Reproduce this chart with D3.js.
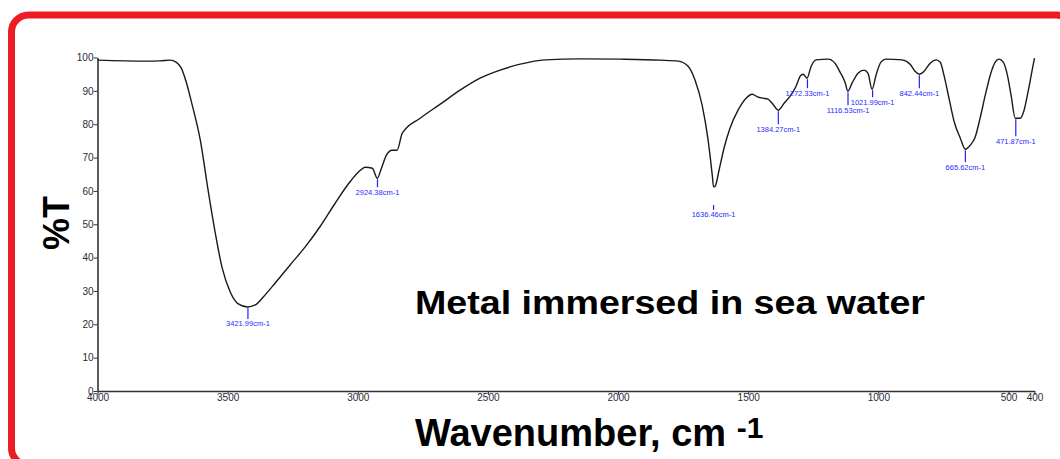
<!DOCTYPE html>
<html><head><meta charset="utf-8">
<script src="https://cdn.jsdelivr.net/npm/d3@7"></script>
<style>html,body{margin:0;padding:0;background:#fff;}svg{display:block;}</style>
</head><body>
<script>
// Spectrum data: wavenumber (cm-1) and transmittance (%T)
const wavenumber = [4000,3817,3759,3721,3698,3678,3659,3636,3605,3575,3548,3521,3490,3459,3424,3394,3363,3317,3260,3202,3144,3087,3037,2998,2971,2944,2925,2909,2890,2868,2849,2829,2760,2683,2607,2530,2453,2376,2280,2146,1992,1838,1769,1731,1704,1677,1654,1638,1633,1627,1612,1593,1570,1539,1508,1485,1462,1443,1424,1405,1385,1362,1339,1316,1300,1289,1274,1258,1239,1193,1167,1147,1128,1117,1101,1078,1055,1040,1024,1009,990,971,909,878,859,843,824,801,778,762,747,727,708,685,666,647,628,609,590,570,551,536,520,505,490,474,455,440,425,409,400];
const transmittance = [99.2,98.9,99.0,99.2,98.6,96.8,92.6,85.7,75.2,60.2,47.6,36.9,29.7,26.1,25.2,25.8,28.2,32.4,37.8,43.2,49.4,56.3,62.0,65.6,67.1,66.8,63.8,66.8,70.7,72.2,72.2,77.3,81.8,86.0,90.2,93.8,96.2,98.0,99.3,99.6,99.5,99.2,98.9,97.4,93.2,85.7,75.2,64.7,61.2,61.4,66.2,72.8,78.8,84.2,87.8,89.0,88.1,87.8,87.5,86.0,84.2,86.3,88.4,91.4,94.4,95.0,93.8,97.4,99.3,99.5,98.3,95.6,92.6,89.9,92.3,95.3,96.2,95.3,90.5,94.7,98.6,99.5,99.3,98.0,95.9,95.0,95.9,98.3,99.3,98.6,94.4,87.2,80.6,75.8,72.5,73.7,76.1,81.8,88.4,94.7,98.6,99.5,98.6,95.0,88.7,81.8,81.8,84.2,89.6,96.2,99.8];

// Peak annotations
const peakWn = [3421.99, 2924.38, 1633.0, 1384.27, 1272.33, 1116.53, 1021.99, 842.44, 665.62, 471.87];
const peakT  = [25.2, 63.8, 61.2, 84.2, 93.8, 89.9, 90.5, 95.0, 72.5, 81.8];
const peakLabels = ["3421.99cm-1","2924.38cm-1","1636.46cm-1","1384.27cm-1","1272.33cm-1","1116.53cm-1","1021.99cm-1","842.44cm-1","665.62cm-1","471.87cm-1"];

// Axis ticks
const xTicks = [4000,3500,3000,2500,2000,1500,1000,500,400];
const yTicks = [0,10,20,30,40,50,60,70,80,90,100];

const W = 1060, H = 459;
const svg = d3.select("body").append("svg").attr("width", W).attr("height", H);

// red rounded frame
svg.append("rect").attr("x", 11.5).attr("y", 15).attr("width", 1062).attr("height", 450)
  .attr("rx", 17).attr("fill", "none").attr("stroke", "#ed1c24").attr("stroke-width", 7);

const x = d3.scaleLinear().domain([4000, 400]).range([97.5, 1034.5]);
const y = d3.scaleLinear().domain([0, 100]).range([391, 57.5]);

const font = "'Liberation Sans', Arial, sans-serif";

// axes
const xAxis = svg.append("g").attr("transform", "translate(0,391)")
  .call(d3.axisBottom(x).tickValues(xTicks).tickSize(4).tickSizeOuter(0).tickFormat(d3.format("d")));
const yAxis = svg.append("g").attr("transform", "translate(97.5,0)")
  .call(d3.axisLeft(y).tickValues(yTicks).tickSize(4).tickSizeOuter(0).tickFormat(d3.format("d")));
[xAxis, yAxis].forEach(g => {
  g.select(".domain").attr("stroke", "#333").attr("stroke-width", 1.6);
  g.selectAll(".tick line").attr("stroke", "#333").attr("stroke-width", 1);
  g.selectAll(".tick text").attr("fill", "#2a2a3a").style("font-family", font).style("font-size", "10px");
});
xAxis.selectAll(".tick text").attr("y", 3);
yAxis.selectAll(".tick text").attr("x", -4);

// spectrum line
const pts = wavenumber.map((w, i) => [w, transmittance[i]]);
svg.append("path").datum(pts)
  .attr("fill", "none").attr("stroke", "#1a1a1a").attr("stroke-width", 1.4)
  .attr("d", d3.line().x(d => x(d[0])).y(d => y(d[1])).curve(d3.curveMonotoneX));

// peak markers (layout: gap below curve and marker length, in px)
const markGap = [0, 0, 17, 0, 0, 0, 0, 0, 0, 0];
const markLen = [11, 8, 5, 13, 9, 13, 7, 13, 12, 17];
const pk = svg.append("g");
peakWn.forEach((w, i) => {
  const px = x(w), py = y(peakT[i]) + 1 + markGap[i];
  const end = py + markLen[i];
  pk.append("line").attr("x1", px).attr("x2", px).attr("y1", py).attr("y2", end)
    .attr("stroke", "#2020ff").attr("stroke-width", 1.2);
  pk.append("text").attr("x", px).attr("y", end + 7.5).attr("text-anchor", "middle")
    .attr("fill", "#2a2aff").style("font-family", font).style("font-size", "7.5px")
    .text(peakLabels[i]);
});

// titles
svg.append("text").attr("x", 415).attr("y", 314)
  .attr("textLength", 510).attr("lengthAdjust", "spacingAndGlyphs")
  .style("font-family", font).style("font-weight", "bold").style("font-size", "34px")
  .attr("fill", "#000").text("Metal immersed in sea water");

svg.append("text").attr("transform", "translate(69,223) rotate(-90)")
  .attr("text-anchor", "middle")
  .style("font-family", font).style("font-weight", "bold").style("font-size", "36px")
  .attr("fill", "#000").text("%T");

const xl = svg.append("text").attr("x", 415).attr("y", 446)
  .style("font-family", font).style("font-weight", "bold").style("font-size", "38px").attr("fill", "#000");
xl.append("tspan").text("Wavenumber, cm ");
xl.append("tspan").attr("dy", -8).style("font-size", "30px").text("-1");
</script>
</body></html>
